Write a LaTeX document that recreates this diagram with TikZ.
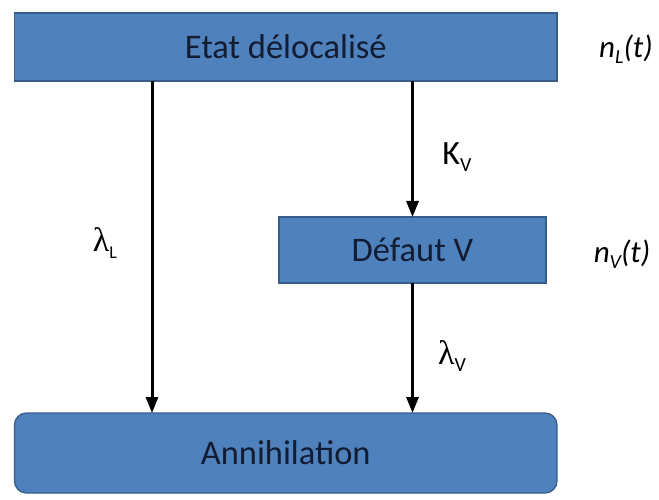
\documentclass[tikz,border=0pt]{standalone}
\usepackage{fontspec}
\setmainfont{Carlito}
\newfontfamily\greekfont{Liberation Serif}
\usetikzlibrary{arrows.meta}
\definecolor{boxfill}{HTML}{4F81BD}
\definecolor{boxline}{HTML}{385D8A}
\definecolor{boxtext}{RGB}{18,28,50}
\tikzset{
  blockbox/.style={draw=boxline, line width=1.3pt, fill=boxfill, inner sep=0pt, outer sep=0pt,
    text=boxtext, font=\fontsize{34.5}{37}\selectfont},
  arr/.style={line width=3pt, -{Triangle[length=16pt,width=12pt]}},
  lab/.style={font=\fontsize{34}{36}\selectfont, inner sep=0pt},
}
\begin{document}
\begin{tikzpicture}[x=1pt,y=-1pt]
\useasboundingbox (0,0) rectangle (659,500);
\node[blockbox, minimum width=542.5pt, minimum height=68pt] (top) at (285.75,47) {Etat délocalisé};
\node[blockbox, minimum width=267pt, minimum height=66pt] (def) at (412.5,250) {Défaut V};
\node[blockbox, rounded corners=12pt, minimum width=542.5pt, minimum height=80pt] (ann) at (285.75,453) {\raisebox{-4pt}{Annihilation}};
\coordinate (lx) at (152,0);
\draw[arr] (top.south -| lx) -- (ann.north -| lx);
\draw[arr] (top.south -| def.north) -- (def.north);
\draw[arr] (def.south) -- (ann.north -| def.south);
\node[lab] (lamL) at (105,243) {{\greekfont λ}\raisebox{-7pt}{\fontsize{18}{20}\selectfont L}};
\node[lab] (kv) at (457,157) {K\raisebox{-7pt}{\fontsize{20}{22}\selectfont V}};
\node[lab] (lamV) at (452,356) {{\greekfont λ}\raisebox{-7pt}{\fontsize{20}{22}\selectfont V}};
\node[lab, font=\fontsize{31}{34}\selectfont\itshape] (nL) at (626,49) {n\raisebox{-6pt}{\fontsize{20}{22}\selectfont L}(t)};
\node[lab, font=\fontsize{31}{34}\selectfont\itshape] (nV) at (622,254) {n\raisebox{-6pt}{\fontsize{20}{22}\selectfont V}(t)};
\end{tikzpicture}
\end{document}
